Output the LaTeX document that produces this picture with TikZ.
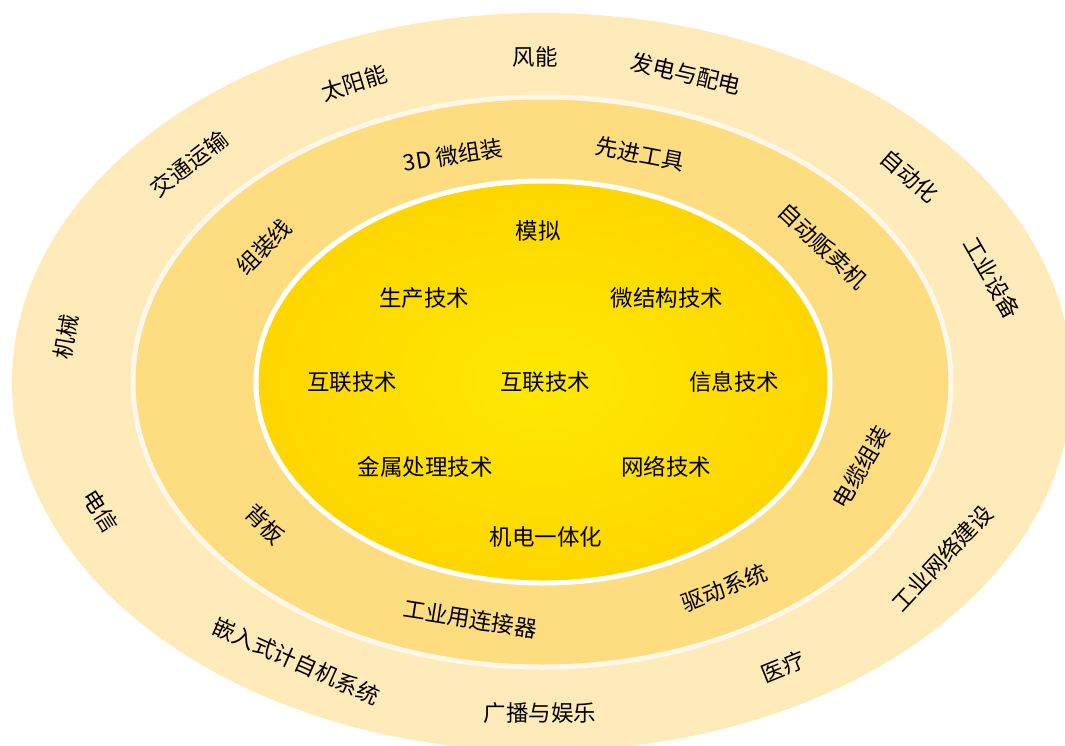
\documentclass[tikz,border=0pt]{standalone}
\usepackage{fontspec}
\newfontfamily\cjk{Noto Sans CJK SC}
\definecolor{outerring}{HTML}{FFEBB9}
\definecolor{midring}{HTML}{FDDD80}
\definecolor{midedge}{HTML}{FFF8EA}
\definecolor{coreyellow}{HTML}{FFE900}
\definecolor{coreedge}{HTML}{FFCC00}
\pgfdeclareradialshading{coreglow}{\pgfpoint{0bp}{0bp}}{color(0bp)=(coreyellow); color(38bp)=(coreedge); color(50bp)=(coreedge)}
\tikzset{
    lbl/.style={
           font=\cjk\fontsize{22.5}{27}\selectfont,
           inner sep=0pt,
           text=black},
    ring/.style={
           line width=5pt}
}

\begin{document}
\begin{tikzpicture}[x=1pt, y=-1pt]
        \useasboundingbox (0,0) rectangle (1065,745);
        \begin{scope}
        \clip (0,0) rectangle (1065,745);
        \path[fill=outerring] (542,382) ellipse (530 and 369);
        \end{scope}
        \path[ring, fill=midring, draw=midedge] (542,382) ellipse (409 and 285);
        \path[ring, shading=coreglow, draw=white] (543,382) ellipse (287 and 201);

        % core
        \node[lbl] (c1) at (538,231) {模拟};
        \node[lbl] (c2) at (424,298) {生产技术};
        \node[lbl] (c3) at (667,298) {微结构技术};
        \node[lbl] (c4) at (352,382) {互联技术};
        \node[lbl] (c5) at (545,382) {互联技术};
        \node[lbl] (c6) at (734,382) {信息技术};
        \node[lbl] (c7) at (425,467) {金属处理技术};
        \node[lbl] (c8) at (666,467) {网络技术};
        \node[lbl] (c9) at (546,537) {机电一体化};

        % middle ring
        \node[lbl, rotate=9] (m1) at (453,155) {3D 微组装};
        \node[lbl, rotate=-11] (m2) at (640,154) {先进工具};
        \node[lbl, rotate=45] (m3) at (264,247) {组装线};
        \node[lbl, rotate=-43] (m4) at (823,246) {自动贩卖机};
        \node[lbl, rotate=60] (m5) at (861,467) {电缆组装};
        \node[lbl, rotate=-45] (m6) at (265,524) {背板};
        \node[lbl, rotate=-9] (m7) at (470,619) {工业用连接器};
        \node[lbl, rotate=22] (m8) at (724,588) {驱动系统};

        % outer ring
        \node[lbl] (o1) at (535,57) {风能};
        \node[lbl, rotate=17] (o2) at (354,83) {太阳能};
        \node[lbl, rotate=-13] (o3) at (686,74) {发电与配电};
        \node[lbl, rotate=38] (o4) at (189,164) {交通运输};
        \node[lbl, rotate=-41] (o5) at (910,176) {自动化};
        \node[lbl, rotate=-60] (o6) at (992,278) {工业设备};
        \node[lbl, rotate=80] (o7) at (66,337) {机械};
        \node[lbl, rotate=-58] (o8) at (101,511) {电信};
        \node[lbl, rotate=-24] (o9) at (296,661) {嵌入式计自机系统};
        \node[lbl] (o10) at (540,713) {广播与娱乐};
        \node[lbl, rotate=22] (o11) at (783,667) {医疗};
        \node[lbl, rotate=47] (o12) at (942,558) {工业网络建设};
\end{tikzpicture}
\end{document}
